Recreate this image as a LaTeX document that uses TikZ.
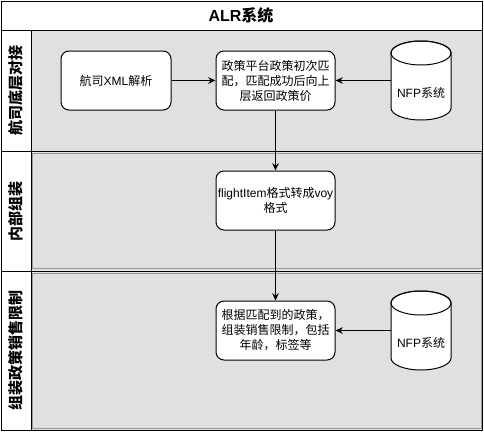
\documentclass[tikz,border=0pt]{standalone}
\usepackage{fontspec}
\setmainfont{Noto Sans CJK SC}
\newfontfamily\lat{Liberation Sans}
\usetikzlibrary{arrows.meta}

\begin{document}
\begin{tikzpicture}[x=0.75pt,y=-0.75pt,line width=0.75pt,>={Stealth[length=5.5pt,width=5pt]},
        box/.style={draw,fill=white,rounded corners=6pt,minimum width=89.25pt,minimum height=44.25pt,
            inner sep=1pt,align=center,font=\fontsize{9}{11.25}\selectfont},
        lanelabel/.style={rotate=90,font=\fontsize{11.25}{13}\selectfont\bfseries},
        dbtext/.style={font=\fontsize{9}{11.25}\selectfont}]
        \useasboundingbox (0,0) rectangle (484,432);

        % pool and lanes
        \fill[white] (1,1) rectangle (482,430);
        \fill[black!12] (31,30) rectangle (482,430);
        \draw[black!40] (32,153) rectangle (481,268);
        \draw[black!40] (32,273) rectangle (481,428);
        \draw (1,1) rectangle (482,430);
        \draw (1,30) -- (482,30) (31,30) -- (31,430);
        \draw (1,151) -- (482,151) (1,271) -- (482,271);

        \node[font=\fontsize{12}{14}\selectfont\bfseries] (pool) at (241,15.5) {{\lat ALR}系统};
        \node[lanelabel] (lane1) at (16,90.5) {航司底层对接};
        \node[lanelabel] (lane2) at (16,211) {内部组装};
        \node[lanelabel] (lane3) at (16,350.5) {组装政策销售限制};

        % steps
        \node[box,minimum width=82.5pt] (xml) at (116,80.5) {航司{\lat XML}解析};
        \node[box] (match) at (275.5,80.5) {政策平台政策初次匹\\配，匹配成功后向上\\层返回政策价};
        \node[box] (fmt) at (275.5,200.5) {{\lat flightItem}格式转成{\lat voy}\\格式};
        \node[box] (limit) at (275.5,330.5) {根据匹配到的政策，\\组装销售限制，包括\\年龄，标签等};

        % NFP databases
        \foreach \n/\y in {nfp1/80.5,nfp2/330.5}{
            \node[minimum width=45pt,minimum height=59.25pt,inner sep=0pt] (\n) at (421,\y) {};
            \filldraw[fill=white] (391,\y-27.5) -- (391,\y+27.5)
                arc[start angle=180,end angle=0,x radius=30,y radius=12] -- (451,\y-27.5)
                arc[start angle=0,end angle=-180,x radius=30,y radius=12] -- cycle;
            \draw (421,\y-27.5) ellipse[x radius=30,y radius=12];
            \node[dbtext] (\n-txt) at (421,\y+12.5) {{\lat NFP}系统};
        }

        \path[->] (xml) edge (match)
                  (nfp1) edge (match)
                  (match) edge (fmt)
                  (fmt) edge (limit)
                  (nfp2) edge (limit);
    \end{tikzpicture}
\end{document}
